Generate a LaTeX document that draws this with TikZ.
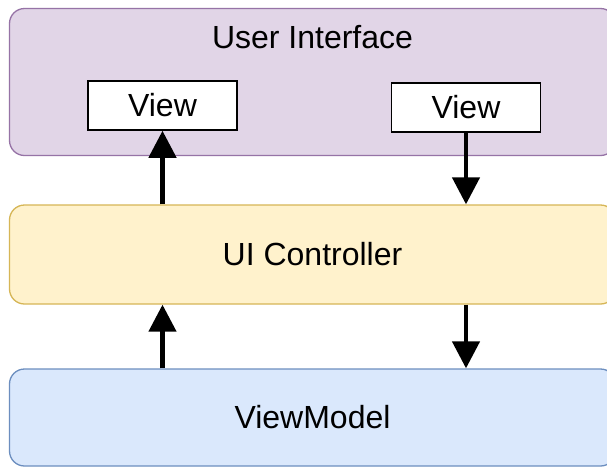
\documentclass[tikz,border=0pt]{standalone}
\usepackage{fontspec}
\setmainfont{Liberation Sans}
\usetikzlibrary{arrows.meta}
\definecolor{uifill}{HTML}{E1D5E7}
\definecolor{uidraw}{HTML}{9673A6}
\definecolor{ctrlfill}{HTML}{FFF2CC}
\definecolor{ctrldraw}{HTML}{D6B656}
\definecolor{vmfill}{HTML}{DAE8FC}
\definecolor{vmdraw}{HTML}{6C8EBF}
\begin{document}
\begin{tikzpicture}[x=1pt,y=-1pt,
  labelfont/.style={font=\fontsize{32}{38}\selectfont},
  layer/.style={draw, rounded corners=15pt, line width=1.3pt, minimum width=606pt, inner sep=0pt, labelfont},
  viewbox/.style={draw=black, fill=white, line width=1.5pt, minimum width=149pt, minimum height=49pt, inner sep=0pt, labelfont},
  flow/.style={line width=4.5pt, -{Triangle[width=27pt,length=27pt]}}]
\useasboundingbox (0,0) rectangle (607,467);
\clip (0,0) rectangle (607,467);
\fill[white] (0,0) rectangle (607,467);
\node[layer, fill=uifill, draw=uidraw, minimum height=147pt] (ui) at (312.5,82) {};
\node[labelfont, anchor=base, inner sep=0pt] (uititle) at (312.5,48) {User Interface};
\node[viewbox] (v1) at (162.5,105.5) {View};
\node[viewbox] (v2) at (466,107.5) {View};
\node[layer, fill=ctrlfill, draw=ctrldraw, minimum height=99pt] (ctrl) at (312.5,254.5) {UI Controller};
\node[layer, fill=vmfill, draw=vmdraw, minimum height=97pt] (vm) at (312.5,417.5) {ViewModel};
\draw[flow] (ctrl.north -| v1.south) -- (v1.south);
\draw[flow] (v2.south) -- (v2.south |- ctrl.north);
\draw[flow] (vm.north -| v1.south) -- (v1.south |- ctrl.south);
\draw[flow] (v2.south |- ctrl.south) -- (v2.south |- vm.north);
\end{tikzpicture}
\end{document}
